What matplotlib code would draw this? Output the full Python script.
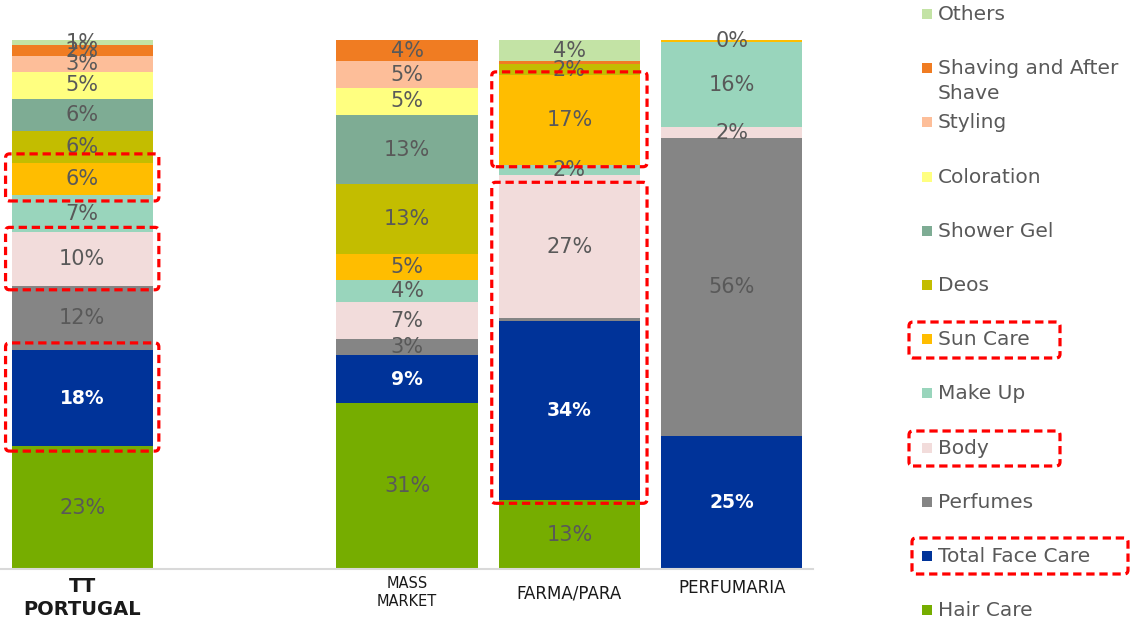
import matplotlib
matplotlib.use("Agg")
import matplotlib.pyplot as plt
import numpy as np
from matplotlib.patches import FancyBboxPatch, Rectangle
from matplotlib.transforms import IdentityTransform

# Category share by channel (%), one list per category, channel order below
channels = ["TT\nPORTUGAL", "MASS\nMARKET", "FARMA/PARA", "PERFUMARIA"]
categories = ["Hair Care", "Total Face Care", "Perfumes", "Body", "Make Up",
              "Sun Care", "Deos", "Shower Gel", "Coloration", "Styling",
              "Shaving and After\nShave", "Others"]

hair_care = [23, 31, 13, 0]
face_care = [18, 9, 34, 25]
perfumes = [12, 3, 0.5, 56]
body = [10, 7, 27, 2]
make_up = [7, 4, 2, 16]
sun_care = [6, 5, 17, 0.4]
deos = [6, 13, 2, 0]
shower_gel = [6, 13, 0, 0]
coloration = [5, 5, 0, 0]
styling = [3, 5, 0, 0]
shaving = [2, 4, 0.6, 0]
others = [1, 0, 4, 0]

series = [hair_care, face_care, perfumes, body, make_up, sun_care, deos,
          shower_gel, coloration, styling, shaving, others]
colors = ["#76AD00", "#003399", "#858585", "#F2DCDB", "#99D5BC", "#FFBD00",
          "#C3BD00", "#7EAC94", "#FFFF80", "#FDBE99", "#F07C22", "#C3E3A5"]

# slivers without a data label
unlabeled = {(2, "Perfumes"), (2, "Shaving and After\nShave")}

W, H = 1137, 623
fig = plt.figure(figsize=(W / 100, H / 100), dpi=100)
ax = fig.add_axes([1 / W, (H - 569) / H, 812 / W, 529 / H])

positions = np.array([0, 2, 3, 4], dtype=float)
data = np.array(series, dtype=float)
totals = data.sum(axis=0)
shares = data / totals * 100          # 100% stacked
bottoms = np.zeros(len(channels))
seg_bounds = {}
for ci, (cat, col) in enumerate(zip(categories, colors)):
    vals = shares[ci]
    ax.bar(positions, vals, bottom=bottoms, width=0.87, color=col,
           edgecolor="none", zorder=2)
    for bi in range(len(channels)):
        raw = data[ci, bi]
        seg_bounds[(bi, cat)] = (bottoms[bi], bottoms[bi] + vals[bi])
        if raw <= 0 or (bi, cat) in unlabeled:
            continue
        y = bottoms[bi] + vals[bi] / 2
        if cat == "Total Face Care":
            ax.text(positions[bi], y, f"{round(raw)}%", ha="center",
                    va="center", fontsize=13.5, color="white",
                    fontweight="bold", zorder=4)
        else:
            ax.text(positions[bi], y, f"{round(raw)}%", ha="center",
                    va="center", fontsize=15, color="#595959", zorder=4)
    bottoms = bottoms + vals

ax.set_xlim(-0.5, 4.5)
ax.set_ylim(0, 100)
for s in ["top", "right", "left"]:
    ax.spines[s].set_visible(False)
ax.spines["bottom"].set_color("#D9D9D9")
ax.spines["bottom"].set_linewidth(1.5)
ax.set_yticks([])
ax.set_xticks([])

# channel labels
label_specs = [
    (channels[0], 0, 14, "bold", 598),
    (channels[1], 2, 10.5, "normal", 592),
    (channels[2], 3, 12, "normal", 593),
    (channels[3], 4, 12, "normal", 588),
]
for text, xpos, fs, fw, ypx in label_specs:
    xf = ax.transData.transform((xpos, 0))[0]
    fig.text(xf / W, 1 - ypx / H, text, ha="center", va="center",
             fontsize=fs, fontweight=fw, color="#1A1A1A", linespacing=1.25)


def red_box(x0, y0_top, x1, y1_bottom):
    """Dashed rounded highlight given pixel coords measured from the top."""
    patch = FancyBboxPatch((x0, H - y1_bottom), x1 - x0, y1_bottom - y0_top,
                           boxstyle="round,pad=0,rounding_size=4",
                           fill=False, edgecolor="#FF0000", linewidth=2.3,
                           linestyle=(0, (2.6, 1.5)),
                           transform=IdentityTransform(), zorder=10)
    fig.add_artist(patch)


def highlight(bi, cat_lo, cat_hi, pad_bottom, pad_top, padx=6):
    y_lo = seg_bounds[(bi, cat_lo)][0]
    y_hi = seg_bounds[(bi, cat_hi)][1]
    xl, yb = ax.transData.transform((positions[bi] - 0.435, y_lo))
    xr, yt = ax.transData.transform((positions[bi] + 0.435, y_hi))
    red_box(xl - padx, H - yt - pad_top, xr + padx, H - yb + pad_bottom)


highlight(0, "Sun Care", "Sun Care", 6, 9)
highlight(0, "Body", "Body", 4, 5)
highlight(0, "Total Face Care", "Total Face Care", 5, 7)
highlight(2, "Sun Care", "Sun Care", 2, 3, padx=7)
highlight(2, "Total Face Care", "Body", 3, -7, padx=7)

# legend, top entry first
legend_order = list(range(len(categories)))[::-1]
y0, step = 14, 54.2
for k, ci in enumerate(legend_order):
    yc = y0 + k * step
    fig.add_artist(Rectangle((922, H - yc - 5), 10, 10, facecolor=colors[ci],
                             edgecolor="none", transform=IdentityTransform()))
    fig.text(938 / W, 1 - (yc - 9) / H, categories[ci], ha="left", va="top",
             fontsize=14.5, color="#595959", linespacing=1.4)

red_box(909, 322, 1060, 358)
red_box(909, 431, 1060, 466)
red_box(912, 538, 1128, 574)

fig.savefig("out.png", dpi=100)
